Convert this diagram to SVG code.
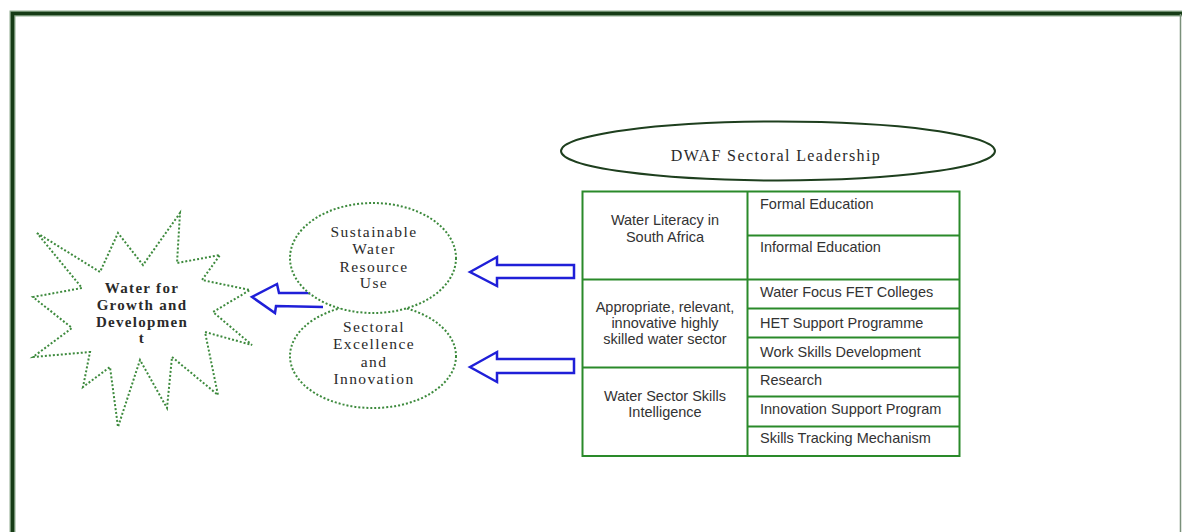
<svg xmlns="http://www.w3.org/2000/svg" width="1182" height="532" viewBox="0 0 1182 532">
<style>
.dot{fill:#fff;stroke:#3d8a3d;stroke-width:2;stroke-dasharray:2 2}
.arrow{fill:#fff;stroke:#1f1fd8;stroke-width:2.5;stroke-linejoin:miter}
.cell{fill:none;stroke:#2a8a2a;stroke-width:2}
.sans{font-family:"Liberation Sans",Arial,sans-serif;font-size:14.5px;fill:#333}
.serif{font-family:"Liberation Serif","Times New Roman",serif;font-size:15.5px;fill:#2a2a2a;letter-spacing:1.4px}
.bold{font-family:"Liberation Serif","Times New Roman",serif;font-size:15px;font-weight:bold;fill:#2a2a2a;letter-spacing:1.3px}
</style>
<rect width="1182" height="532" fill="#fff"/>
<g id="frame">
<path d="M12.5,532 V13.5 H1182" fill="none" stroke="#8fab8f" stroke-width="6"/>
<path d="M12.5,532 V13.5 H1182" fill="none" stroke="#163c16" stroke-width="3.5"/>
<line x1="1180.5" y1="14" x2="1180.5" y2="532" stroke="#7a907a" stroke-width="1.5"/>
</g>
<g id="connectors">
<path class="arrow" fill="none" d="M312,293 L279,293 L277,284 L252,297 L275,313 L276,306 L323,307"/>
<polygon class="arrow" points="470,272 497,257 497,265 574,265 574,278 497,278 497,286"/>
<polygon class="arrow" points="470,367 497,352 497,359 574,359 574,373 497,373 497,382"/>
</g>
<g id="star">
<polygon class="dot" points="37,233 100,272 118,233 143,265 180,213 177,263 220,255 202,280 250,290 213,312 252,345 205,332 218,395 172,357 167,408 140,360 118,427 110,367 83,387 90,352 33,357 72,328 33,297 82,288"/>
<text class="bold" text-anchor="middle"><tspan x="142" y="293">Water for</tspan><tspan x="142" y="310">Growth and</tspan><tspan x="142" y="327">Developmen</tspan><tspan x="142" y="343">t</tspan></text>
</g>
<g id="excellence">
<ellipse class="dot" cx="373" cy="356" rx="83" ry="52"/>
<text class="serif" text-anchor="middle"><tspan x="374" y="332">Sectoral</tspan><tspan x="374" y="349">Excellence</tspan><tspan x="374" y="367">and</tspan><tspan x="374" y="384">Innovation</tspan></text>
</g>
<g id="sustainable">
<ellipse class="dot" cx="373" cy="258" rx="83" ry="55"/>
<text class="serif" text-anchor="middle"><tspan x="374" y="237">Sustainable</tspan><tspan x="374" y="254">Water</tspan><tspan x="374" y="272">Resource</tspan><tspan x="374" y="288">Use</tspan></text>
</g>
<g id="leadership">
<ellipse cx="778" cy="151" rx="217" ry="29.5" fill="#fff" stroke="#1e3f1e" stroke-width="2"/>
<text class="serif" x="776" y="161" text-anchor="middle" style="font-size:16px;letter-spacing:1.4px">DWAF Sectoral Leadership</text>
</g>
<g id="table">
<rect class="cell" x="582.5" y="191.5" width="377" height="264.5"/>
<line class="cell" x1="747.5" y1="191.5" x2="747.5" y2="456"/>
<line class="cell" x1="582.5" y1="279.5" x2="959.5" y2="279.5"/>
<line class="cell" x1="582.5" y1="367.5" x2="959.5" y2="367.5"/>
<line class="cell" x1="747.5" y1="235.5" x2="959.5" y2="235.5"/>
<line class="cell" x1="747.5" y1="308.5" x2="959.5" y2="308.5"/>
<line class="cell" x1="747.5" y1="337.5" x2="959.5" y2="337.5"/>
<line class="cell" x1="747.5" y1="396.5" x2="959.5" y2="396.5"/>
<line class="cell" x1="747.5" y1="426.5" x2="959.5" y2="426.5"/>
</g>
<g id="row-literacy">
<text class="sans" text-anchor="middle"><tspan x="665" y="225">Water Literacy in</tspan><tspan x="665" y="242">South Africa</tspan></text>
<text class="sans" x="760" y="209">Formal Education</text>
<text class="sans" x="760" y="252">Informal Education</text>
</g>
<g id="row-skilled">
<text class="sans" text-anchor="middle"><tspan x="665" y="312">Appropriate, relevant,</tspan><tspan x="665" y="328">innovative highly</tspan><tspan x="665" y="344">skilled water sector</tspan></text>
<text class="sans" x="760" y="297">Water Focus FET Colleges</text>
<text class="sans" x="760" y="328">HET Support Programme</text>
<text class="sans" x="760" y="357">Work Skills Development</text>
</g>
<g id="row-intelligence">
<text class="sans" text-anchor="middle"><tspan x="665" y="401">Water Sector Skills</tspan><tspan x="665" y="417">Intelligence</tspan></text>
<text class="sans" x="760" y="385">Research</text>
<text class="sans" x="760" y="414">Innovation Support Program</text>
<text class="sans" x="760" y="443">Skills Tracking Mechanism</text>
</g>
</svg>
